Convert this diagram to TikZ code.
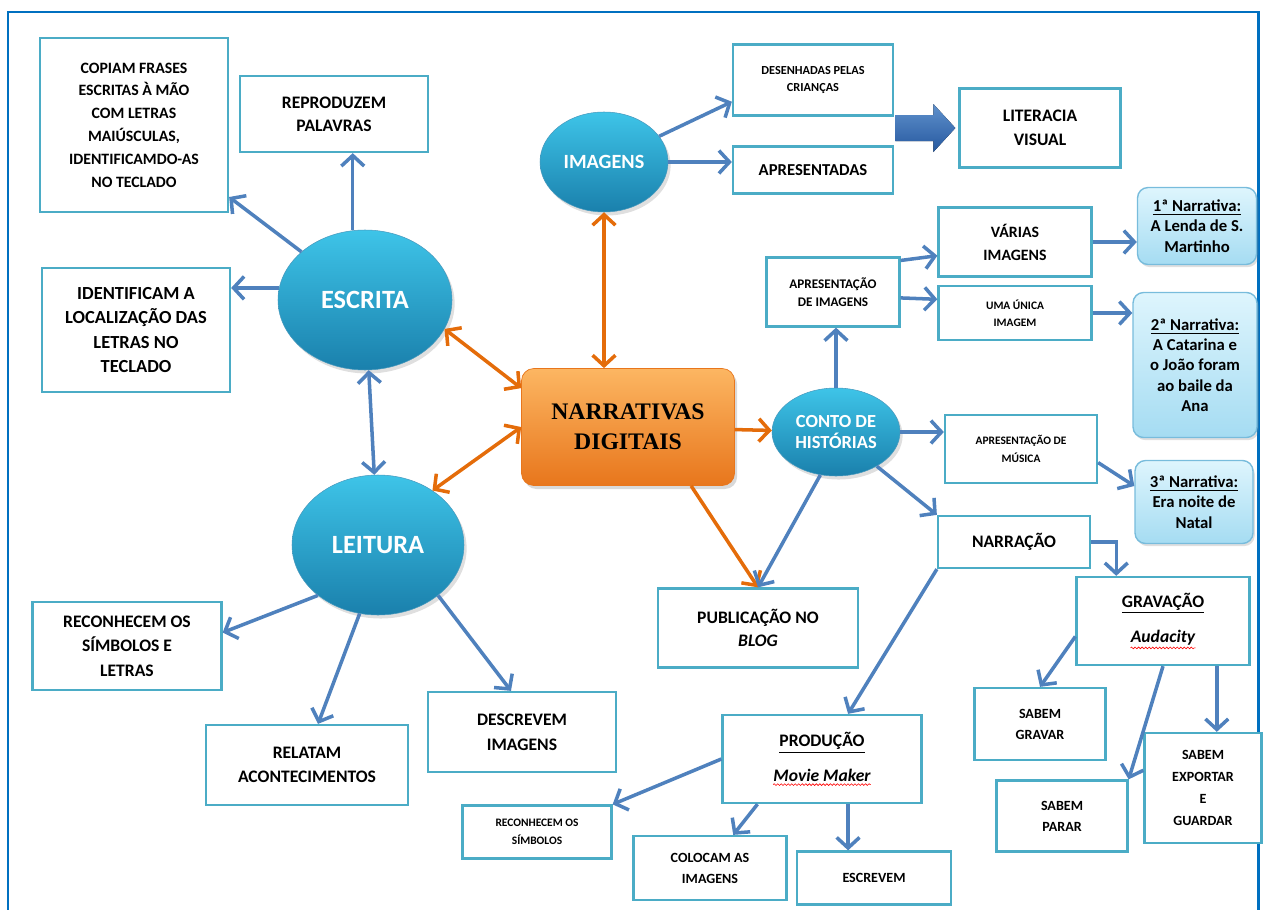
\documentclass[tikz,border=0pt]{standalone}
\usepackage{fontspec}
\setmainfont{Carlito}
\newfontfamily\titlefont{Liberation Serif}
\usetikzlibrary{arrows.meta,shapes.geometric,shadows,calc,decorations.pathmorphing}
\definecolor{frameblue}{RGB}{0,112,192}
\definecolor{boxline}{RGB}{75,172,198}
\definecolor{linkblue}{RGB}{79,129,189}
\definecolor{linkorange}{RGB}{228,108,10}
\definecolor{balltop}{RGB}{62,196,232}
\definecolor{ballbot}{RGB}{26,128,172}
\definecolor{orangetop}{RGB}{252,182,98}
\definecolor{orangebot}{RGB}{232,118,28}
\definecolor{narrtop}{RGB}{222,245,253}
\definecolor{narrbot}{RGB}{165,220,242}
\definecolor{narrline}{RGB}{120,188,220}
\definecolor{fattop}{RGB}{95,145,205}
\definecolor{fatbot}{RGB}{38,88,158}

\newcommand{\fs}[2]{\fontsize{#1}{#2}\selectfont}
% red spell-check wave under a word
\newcommand{\spellchk}[1]{\tikz[baseline=(sw.base)]{%
  \node[shape=rectangle, draw=none, fill=none, inner sep=0pt, minimum size=0pt] (sw) {#1};
  \draw[red, line width=0.35pt, decorate, decoration={snake, amplitude=0.5pt, segment length=2pt}]
    ([yshift=-1.4pt]sw.south west) -- ([yshift=-1.4pt]sw.south east);}}

\begin{document}
\begin{tikzpicture}[x=0.02cm, y=-0.02cm,
    wh/.style 2 args={minimum width=#1*0.02cm, minimum height=#2*0.02cm},
    box/.style={draw=boxline, line width=1.3pt, fill=white, rectangle, align=center,
                inner sep=1pt, font=\bfseries\fs{10}{13}},
    bubble/.style={ellipse, inner sep=0pt, align=center, text=white,
                   font=\bfseries\fs{15}{18}, top color=balltop, bottom color=ballbot,
                   draw=ballbot!80, line width=0.3pt,
                   drop shadow={opacity=0.25, shadow xshift=1.5pt, shadow yshift=-2pt}},
    narr/.style={rounded corners=6pt, draw=narrline, line width=0.8pt, top color=narrtop,
                 bottom color=narrbot, align=center, inner sep=1pt,
                 font=\bfseries\fs{9.5}{11.5},
                 drop shadow={opacity=0.25, shadow xshift=1pt, shadow yshift=-1.5pt}},
    link/.style={linkblue, line width=2pt},
    hub/.style={linkorange, line width=2pt},
    >={Straight Barb[length=6pt,width=13pt]}]
  \useasboundingbox (0,0) rectangle (1263,909);
  \draw[frameblue, line width=1.7pt] (8,940) -- (8,12) -- (1258,12) -- (1258,940);

  % centre
  \node[rounded corners=7pt, top color=orangetop, bottom color=orangebot, draw=orangebot,
        align=center, font=\titlefont\bfseries\fs{13.5}{17}, wh={213}{117},
        drop shadow={opacity=0.3, shadow xshift=1.5pt, shadow yshift=-2pt}]
        (narrativas) at (628,427) {NARRATIVAS\\DIGITAIS};

  % escrita / leitura
  \node[bubble, wh={174}{140}] (escrita) at (365,300) {ESCRITA};
  \node[bubble, wh={172}{140}] (leitura) at (378,545) {LEITURA};
  \node[box, wh={188}{174}, font=\bfseries\fs{9}{13}] (copiam) at (134,125)
        {COPIAM FRASES\\ESCRITAS À MÃO\\COM LETRAS\\MAIÚSCULAS,\\IDENTIFICAMDO-AS\\NO TECLADO};
  \node[box, wh={188}{76}] (reproduzem) at (334,114) {REPRODUZEM\\PALAVRAS};
  \node[box, wh={188}{124}, font=\bfseries\fs{10.5}{14}] (identificam) at (136,330)
        {IDENTIFICAM A\\LOCALIZAÇÃO DAS\\LETRAS NO\\TECLADO};
  \node[box, wh={189}{88}, font=\bfseries\fs{10}{14}] (recsimb) at (127,646)
        {RECONHECEM OS\\SÍMBOLOS E\\LETRAS};
  \node[box, wh={202}{80}, font=\bfseries\fs{10}{14}] (relatam) at (307,765)
        {RELATAM\\ACONTECIMENTOS};
  \node[box, wh={188}{80}, font=\bfseries\fs{10}{14}] (descrevem) at (522,732)
        {DESCREVEM\\IMAGENS};

  % imagens
  \node[bubble, wh={128}{100}, font=\bfseries\fs{11.5}{14}] (imagens) at (604,162) {IMAGENS};
  \node[box, wh={160}{71}, font=\bfseries\fs{7}{10}] (desenhadas) at (813,80)
        {DESENHADAS PELAS\\CRIANÇAS};
  \node[box, wh={160}{47}, font=\bfseries\fs{9.5}{12}] (apresentadas) at (813,170) {APRESENTADAS};
  \node[box, wh={161}{79}, font=\bfseries\fs{10}{14}] (literacia) at (1040,128)
        {LITERACIA\\VISUAL};

  % conto de historias
  \node[bubble, wh={128}{88}, font=\bfseries\fs{10.5}{12.5}] (conto) at (836,432)
        {CONTO DE\\HISTÓRIAS};
  \node[box, wh={133}{69}, font=\bfseries\fs{7.5}{10}] (apresimg) at (833,292)
        {APRESENTAÇÃO\\DE IMAGENS};
  \node[box, wh={153}{69}, font=\bfseries\fs{9}{13}] (varias) at (1015,242) {VÁRIAS\\IMAGENS};
  \node[box, wh={153}{54}, font=\bfseries\fs{6.5}{9.5}] (unica) at (1015,313) {UMA ÚNICA\\IMAGEM};
  \node[narr, wh={119}{77}] (narr1) at (1197,226)
        {\underline{1ª Narrativa:}\\A Lenda de S.\\Martinho};
  \node[narr, wh={124}{145}] (narr2) at (1195,365)
        {\underline{2ª Narrativa:}\\A Catarina e\\o João foram\\ao baile da\\Ana};
  \node[narr, wh={118}{83}] (narr3) at (1194,502)
        {\underline{3ª Narrativa:}\\Era noite de\\Natal};
  \node[box, wh={152}{68}, font=\bfseries\fs{6.5}{10}] (musica) at (1021,449)
        {APRESENTAÇÃO DE\\MÚSICA};
  \node[box, wh={152}{52}] (narracao) at (1014,542) {NARRAÇÃO};
  \node[box, wh={200}{79}] (publicacao) at (758,628) {PUBLICAÇÃO NO\\\textit{BLOG}};
  \node[box, wh={173}{88}] (gravacao) at (1163,621)
        {\underline{GRAVAÇÃO}\\[7pt]\spellchk{\itshape Audacity}};
  \node[box, wh={199}{88}] (producao) at (822,759)
        {\underline{PRODUÇÃO}\\[7pt]\spellchk{\itshape Movie Maker}};
  \node[box, wh={131}{72}, font=\bfseries\fs{8}{12}] (sgravar) at (1040,724) {SABEM\\GRAVAR};
  \node[box, wh={131}{71}, font=\bfseries\fs{8}{12}] (sparar) at (1062,816) {SABEM\\PARAR};
  \node[box, wh={117}{110}, font=\bfseries\fs{8}{12.5}] (sexport) at (1203,788)
        {SABEM\\EXPORTAR\\E\\GUARDAR};
  \node[box, wh={149}{53}, font=\bfseries\fs{6.5}{10}] (recos) at (537,832)
        {RECONHECEM OS\\SÍMBOLOS};
  \node[box, wh={153}{64}, font=\bfseries\fs{8}{12}] (colocam) at (710,868) {COLOCAM AS\\IMAGENS};
  \node[box, wh={154}{53}, font=\bfseries\fs{8}{12}] (escrevem) at (874,878) {ESCREVEM};

  % orange links
  \draw[hub, <->] (escrita.-20) -- (narrativas.160);
  \draw[hub, <->] (leitura.45) -- (narrativas.west);
  \draw[hub, <->] (imagens.south) -- (imagens.south |- narrativas.north);
  \draw[hub, ->] (narrativas) -- (conto);
  \draw[hub, ->] (narrativas.-43) -- (publicacao.north);

  % escrita / leitura links
  \draw[link, ->] (escrita) -- (copiam);
  \draw[link, ->] (escrita.100) -- (escrita.100 |- reproduzem.south);
  \draw[link, ->] (escrita.172) -- (escrita.172 -| identificam.east);
  \draw[link, <->] (escrita) -- (leitura);
  \draw[link, ->] (leitura.-140) -- (recsimb.8);
  \draw[link, ->] (leitura.-105) -- (relatam.75);
  \draw[link, ->] (leitura.-40) -- (descrevem.105);

  % imagens links
  \draw[link, ->] (imagens.25) -- (desenhadas.195);
  \draw[link, ->] (imagens.east) -- (imagens.east -| apresentadas.west);
  \fill[top color=fattop, bottom color=fatbot] ($(literacia.west)+(-3,0)$) -- ++(-22,-24)
    -- ++(0,11) -- ++(-38,0) -- ++(0,26) -- ++(38,0) -- ++(0,11) -- cycle;

  % conto links
  \draw[link, ->] (conto.-110) -- (publicacao.north);
  \draw[link, ->] (conto.north) -- (conto.north |- apresimg.south);
  \draw[link, ->] (apresimg.25) -- (varias.190);
  \draw[link, ->] (apresimg.-5) -- (unica.170);
  \draw[link, ->] (varias.east) -- (varias.east -| narr1.west);
  \draw[link, ->] (unica.east) -- (unica.east -| narr2.west);
  \draw[link, ->] (conto.east) -- (conto.east -| musica.west);
  \draw[link, ->] (musica.-10) -- (narr3.165);
  \draw[link, ->] (conto.-40) -- (narracao.north west);

  % narracao links
  \draw[link, ->] (narracao.east) -| (gravacao.136);
  \draw[link, ->] (narracao.south west) -- (producao.60);
  \draw[link, ->] (producao.west) -- (recos.north east);
  \draw[link, ->] (producao.-145) -- (colocam.55);
  \draw[link, ->] (producao.-60) -- (producao.-60 |- escrevem.north);
  \draw[link, ->] (gravacao.190) -- (sgravar.north);
  \draw[link, ->] (gravacao.south) -- (sparar.north east);
  \draw[link, ->] (gravacao.-40) -- (gravacao.-40 |- sexport.north);
\end{tikzpicture}
\end{document}
